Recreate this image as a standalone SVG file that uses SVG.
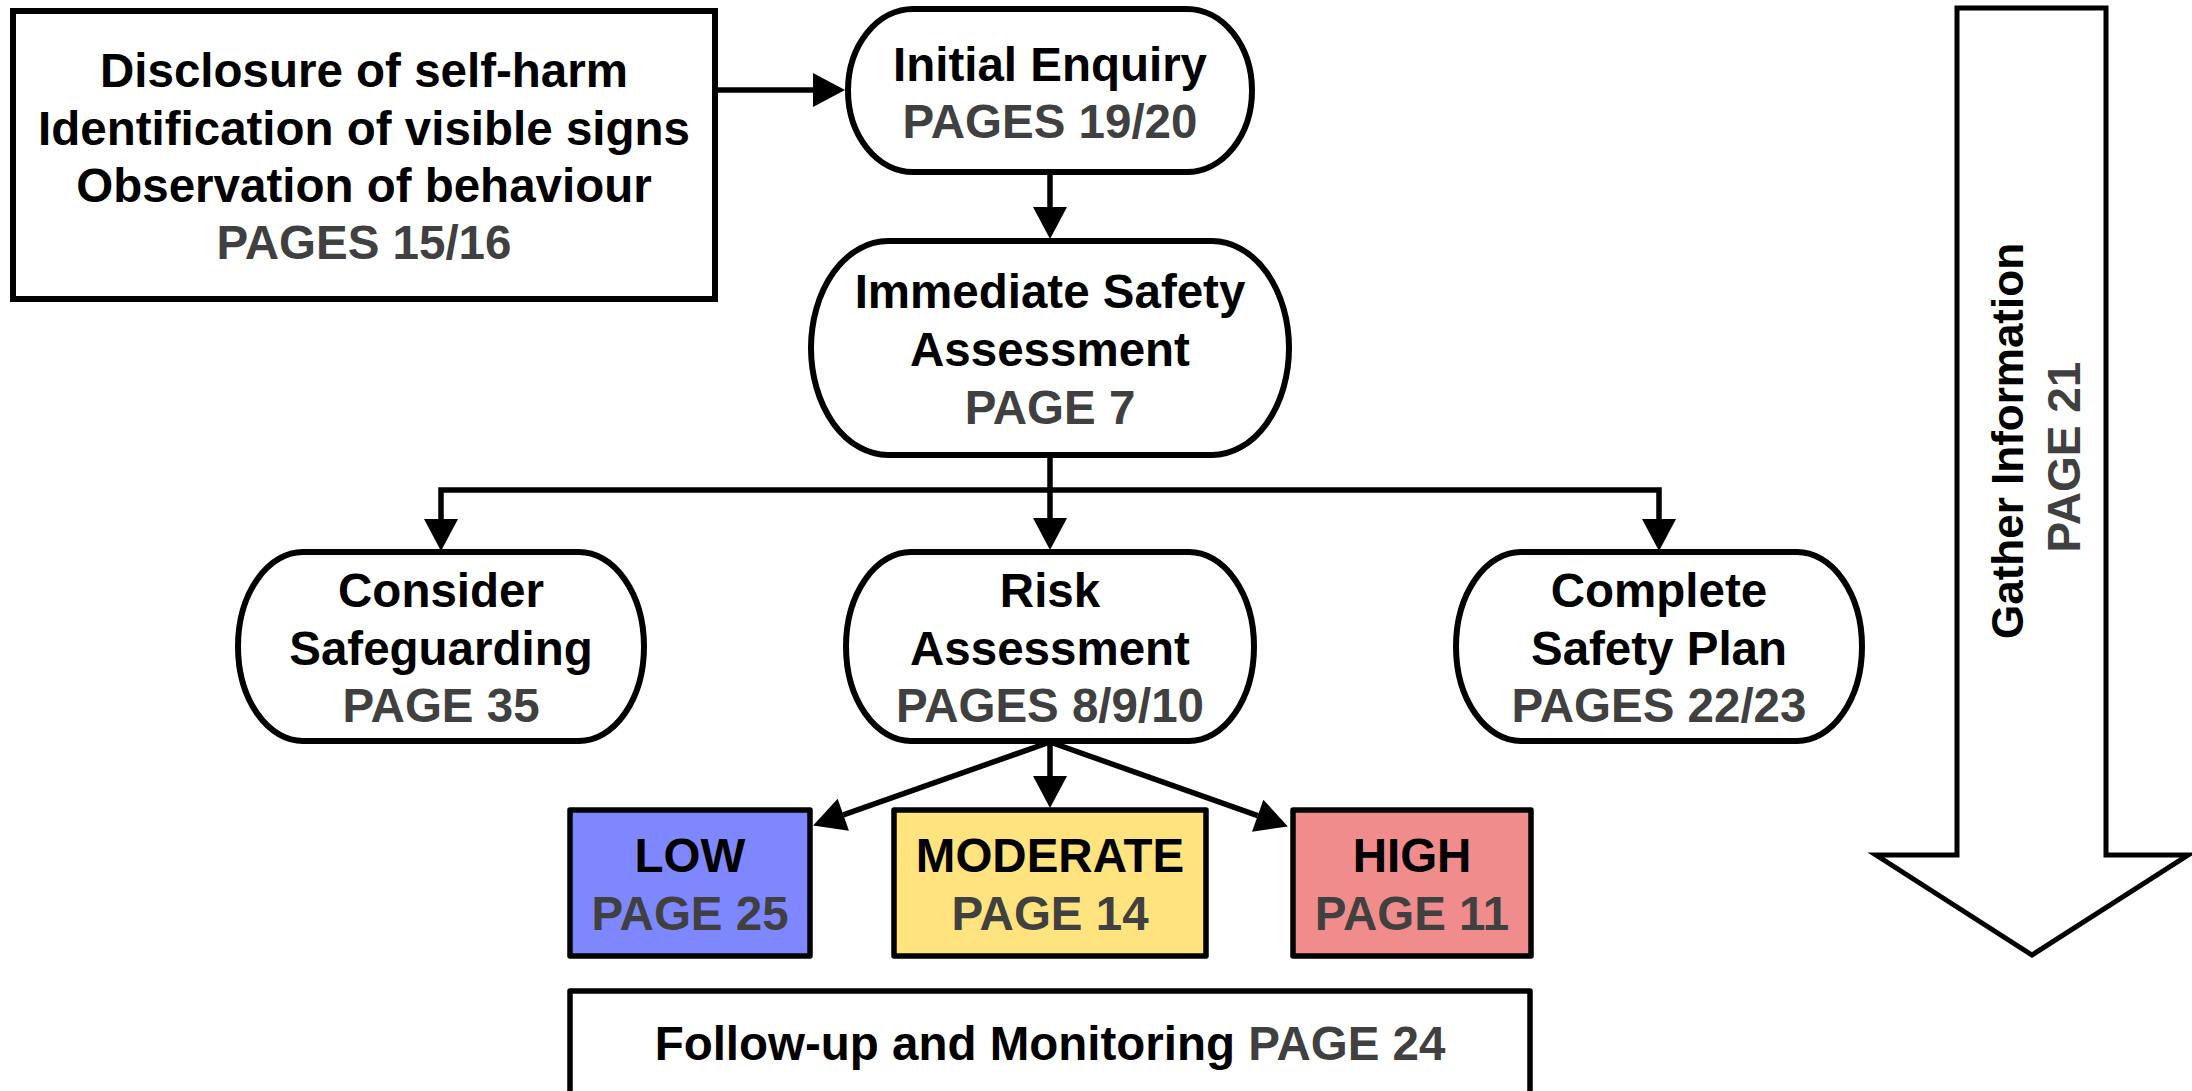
<svg xmlns="http://www.w3.org/2000/svg" width="2192" height="1091" viewBox="0 0 2192 1091">
<style>
text{font-family:"Liberation Sans",Arial,sans-serif;font-weight:bold;font-size:47.5px;text-anchor:middle;fill:#000}
.pg{fill:#404040}
.node{fill:#fff;stroke:#000;stroke-width:6}
.box{stroke:#000;stroke-width:5.5;stroke-linejoin:round}
.conn{fill:none;stroke:#000;stroke-width:5.5;stroke-linejoin:miter;marker-end:url(#ah)}
</style>
<defs>
<marker id="ah" markerUnits="userSpaceOnUse" viewBox="0 0 32 34" markerWidth="32" markerHeight="34" refX="0" refY="17" orient="auto" overflow="visible">
<path d="M0,0 L32,17 L0,34 Z" fill="#000"/>
</marker>
</defs>
<rect width="2192" height="1091" fill="#fff"/>

<g id="connectors">
<path class="conn" d="M715,90 H813"/>
<path class="conn" d="M1050,172 V207"/>
<path class="conn" d="M1050,455 V518"/>
<path class="conn" d="M1050,490 H441 V519"/>
<path class="conn" d="M1050,490 H1659 V519"/>
<path class="conn" d="M1050,742 L843.3,814.8"/>
<path class="conn" d="M1050,742 V776"/>
<path class="conn" d="M1050,742 L1257.7,815.7"/>
</g>

<g id="disclosure">
<rect class="node" x="13" y="11" width="702" height="288"/>
<text x="364" y="87">Disclosure of self-harm</text>
<text x="364" y="145">Identification of visible signs</text>
<text x="364" y="202">Observation of behaviour</text>
<text x="364" y="259" class="pg">PAGES 15/16</text>
</g>

<g id="initial-enquiry">
<rect class="node" x="848" y="9" width="404" height="163" rx="65" ry="81.5"/>
<text x="1050" y="81">Initial Enquiry</text>
<text x="1050" y="138" class="pg">PAGES 19/20</text>
</g>

<g id="immediate-safety">
<rect class="node" x="811" y="241" width="478" height="214" rx="77" ry="107"/>
<text x="1050" y="308">Immediate Safety</text>
<text x="1050" y="366">Assessment</text>
<text x="1050" y="424" class="pg">PAGE 7</text>
</g>

<g id="consider-safeguarding">
<rect class="node" x="238" y="552" width="406" height="189" rx="65" ry="94.5"/>
<text x="441" y="607">Consider</text>
<text x="441" y="665">Safeguarding</text>
<text x="441" y="722" class="pg">PAGE 35</text>
</g>

<g id="risk-assessment">
<rect class="node" x="846" y="552" width="408" height="189" rx="65" ry="94.5"/>
<text x="1050" y="607">Risk</text>
<text x="1050" y="665">Assessment</text>
<text x="1050" y="722" class="pg">PAGES 8/9/10</text>
</g>

<g id="complete-safety-plan">
<rect class="node" x="1456" y="552" width="406" height="189" rx="65" ry="94.5"/>
<text x="1659" y="607">Complete</text>
<text x="1659" y="665">Safety Plan</text>
<text x="1659" y="722" class="pg">PAGES 22/23</text>
</g>

<g id="low">
<rect class="box" x="570" y="810" width="240" height="146" fill="#7F87FF"/>
<text x="690" y="872">LOW</text>
<text x="690" y="930" class="pg">PAGE 25</text>
</g>

<g id="moderate">
<rect class="box" x="894" y="810" width="312" height="146" fill="#FFE37F"/>
<text x="1050" y="872">MODERATE</text>
<text x="1050" y="930" class="pg">PAGE 14</text>
</g>

<g id="high">
<rect class="box" x="1293" y="810" width="238" height="146" fill="#F08C8C"/>
<text x="1412" y="872">HIGH</text>
<text x="1412" y="930" class="pg">PAGE 11</text>
</g>

<g id="follow-up">
<rect class="box" x="570" y="991" width="960" height="200" fill="#fff"/>
<text x="1050" y="1060">Follow-up and Monitoring <tspan class="pg">PAGE 24</tspan></text>
</g>

<g id="gather-information">
<polygon points="1957,8 2106,8 2106,855 2188,855 2032,955 1876,855 1957,855" fill="#fff" stroke="#000" stroke-width="5"/>
<text transform="translate(2023,441) rotate(-90)" x="0" y="0" style="font-size:44px">Gather Information</text>
<text transform="translate(2080,457) rotate(-90)" x="0" y="0" class="pg" style="font-size:46px">PAGE 21</text>
</g>
</svg>
